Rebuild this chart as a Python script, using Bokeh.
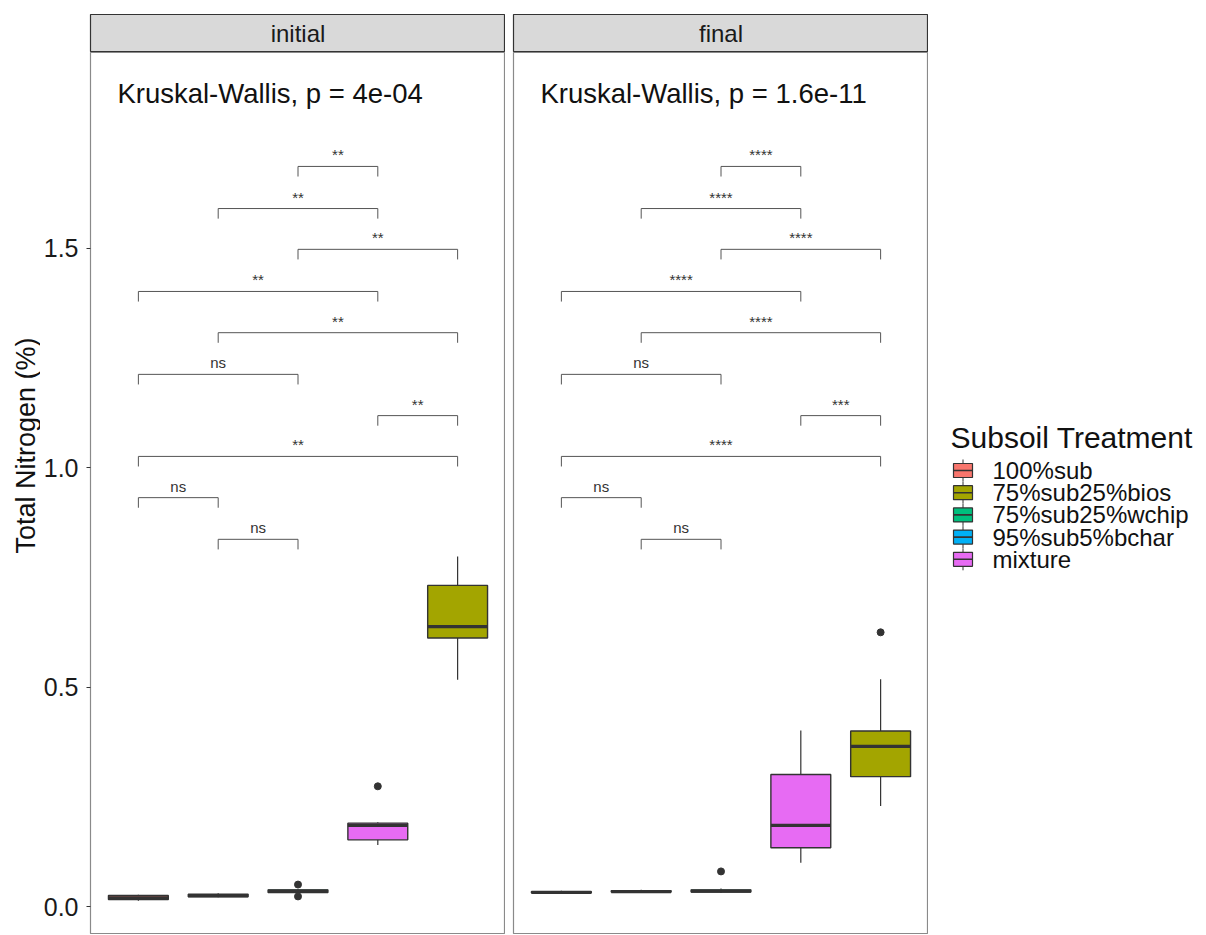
import numpy as np
from bokeh.plotting import figure
from bokeh.layouts import row, column
from bokeh.models import Range1d, FixedTicker, ColumnDataSource, PrintfTickFormatter, Spacer
from bokeh.core.properties import value
from bokeh.embed import file_html
from bokeh.resources import INLINE

# ---------------- data ----------------
legend_groups = ["100%sub", "75%sub25%bios", "75%sub25%wchip", "95%sub5%bchar", "mixture"]
legend_colors = ["#F8766D", "#A3A500", "#00BF7D", "#00B0F6", "#E76BF3"]
x_order = ["100%sub", "95%sub5%bchar", "75%sub25%wchip", "mixture", "75%sub25%bios"]
panel_names = ["initial", "final"]
kw_labels = ["Kruskal-Wallis, p = 4e-04", "Kruskal-Wallis, p = 1.6e-11"]

# box statistics, in x_order
initial_lower = [0.013, 0.021, 0.030, 0.140, 0.517]
initial_q1 = [0.016, 0.022, 0.032, 0.152, 0.612]
initial_median = [0.020, 0.025, 0.035, 0.185, 0.638]
initial_q3 = [0.025, 0.028, 0.038, 0.190, 0.732]
initial_upper = [0.027, 0.030, 0.040, 0.192, 0.798]
initial_out_group = ["75%sub25%wchip", "75%sub25%wchip", "mixture"]
initial_out_value = [0.023, 0.050, 0.274]

final_lower = [0.030, 0.031, 0.031, 0.100, 0.229]
final_q1 = [0.031, 0.033, 0.033, 0.134, 0.296]
final_median = [0.032, 0.034, 0.035, 0.185, 0.365]
final_q3 = [0.034, 0.036, 0.038, 0.301, 0.400]
final_upper = [0.036, 0.038, 0.041, 0.401, 0.518]
final_out_group = ["75%sub25%wchip", "75%sub25%bios"]
final_out_value = [0.080, 0.625]

# pairwise comparison brackets (positions in x_order, 1-based)
bracket_start = [3, 2, 3, 1, 2, 1, 4, 1, 1, 2]
bracket_end = [4, 4, 5, 4, 5, 3, 5, 5, 2, 3]
bracket_y = [1.687, 1.591, 1.498, 1.402, 1.308, 1.213, 1.119, 1.026, 0.932, 0.837]
initial_sig = ["**", "**", "**", "**", "**", "ns", "**", "**", "ns", "ns"]
final_sig = ["****", "****", "****", "****", "****", "ns", "***", "****", "ns", "ns"]

y_ticks = [0.0, 0.5, 1.0, 1.5]
y_title = "Total Nitrogen (%)"
legend_title = "Subsoil Treatment"

# ---------------- style ----------------
FONT = "Liberation Sans"
BOX_W = 0.75
TIP = 0.023
Y0, Y1 = -0.0638, 1.9467
OUTLINE = "#333333"
PANEL_BORDER = "#8a8a8a"
STRIP_H = 52
PANEL_H = 882
TOTAL_H = STRIP_H + PANEL_H
YLAB_W = 40
LEFT_AXIS = 50
P1_W = LEFT_AXIS + 415
P2_W = 8 + 415


def make_strip(name, width, left):
    s = figure(width=width, height=STRIP_H, x_range=Range1d(0, 1), y_range=Range1d(0, 1),
               output_backend="svg", toolbar_location=None, x_axis_location=None,
               y_axis_location=None, min_border=0)
    s.min_border_left = left
    s.min_border_top = 14
    s.grid.visible = False
    s.background_fill_color = "#D9D9D9"
    s.border_fill_color = "white"
    s.outline_line_color = "#333333"
    s.outline_line_width = 1.2
    s.text(x=[0.5], y=[0.5], text=[name], text_align="center", text_baseline="middle",
           text_font=value(FONT), text_font_size="24px", text_color="#1a1a1a")
    return s


def make_panel(width, left, with_axis, lower, q1, med, q3, upper, og, ov, sig, kw):
    p = figure(width=width, height=PANEL_H, x_range=Range1d(0.4, 5.6), y_range=Range1d(Y0, Y1),
               output_backend="svg", toolbar_location=None, x_axis_location=None,
               y_axis_location="left" if with_axis else None, min_border=0)
    p.min_border_left = left
    p.grid.visible = False
    p.outline_line_color = PANEL_BORDER
    p.outline_line_width = 1.2
    if with_axis:
        ax = p.yaxis[0]
        ax.ticker = FixedTicker(ticks=y_ticks)
        ax.formatter = PrintfTickFormatter(format="%.1f")
        ax.axis_line_color = None
        ax.major_tick_out = 4
        ax.major_tick_in = 0
        ax.major_tick_line_color = "#333333"
        ax.minor_tick_line_color = None
        ax.major_label_text_font = FONT
        ax.major_label_text_font_size = "25px"
        ax.major_label_text_color = "#1a1a1a"
        ax.major_label_standoff = 8

    xs = [x_order.index(g) + 1 for g in x_order]
    colors = [legend_colors[legend_groups.index(g)] for g in x_order]
    src = ColumnDataSource(dict(
        x=xs, l=[x - BOX_W / 2 for x in xs], r=[x + BOX_W / 2 for x in xs],
        lower=lower, q1=q1, med=med, q3=q3, upper=upper, color=colors))
    p.segment(x0="x", y0="lower", x1="x", y1="q1", source=src, line_color=OUTLINE, line_width=1.2)
    p.segment(x0="x", y0="q3", x1="x", y1="upper", source=src, line_color=OUTLINE, line_width=1.2)
    p.quad(left="l", right="r", bottom="q1", top="q3", source=src, fill_color="color",
           line_color=OUTLINE, line_width=1.4)
    p.segment(x0="l", y0="med", x1="r", y1="med", source=src, line_color=OUTLINE, line_width=3.2)
    ox = [x_order.index(g) + 1 for g in og]
    p.scatter(x=ox, y=ov, size=7, color=OUTLINE)

    bxs = [[a, a, b, b] for a, b in zip(bracket_start, bracket_end)]
    bys = [[y - TIP, y, y, y - TIP] for y in bracket_y]
    p.multi_line(xs=bxs, ys=bys, line_color="#555555", line_width=1)
    p.text(x=[(a + b) / 2 for a, b in zip(bracket_start, bracket_end)], y=bracket_y, text=sig,
           text_align="center", text_baseline="bottom", y_offset=-3,
           text_font=value(FONT), text_font_size="15px", text_color="#333333")
    p.text(x=[0.737], y=[1.853], text=[kw], text_align="left", text_baseline="alphabetic",
           text_font=value(FONT), text_font_size="27.5px", text_color="#111111")
    return p


# y-axis title: an axis with no ticks whose label is centred where the reference has it
YLAB_H = 890
ylab = figure(width=YLAB_W, height=YLAB_H, x_range=Range1d(0, 1), y_range=Range1d(0, 1),
              output_backend="svg", toolbar_location=None, x_axis_location=None,
              y_axis_location="left", min_border=0)
ylab.min_border_left = YLAB_W - 2
ylab.grid.visible = False
ylab.outline_line_color = None
ya = ylab.yaxis[0]
ya.ticker = FixedTicker(ticks=[])
ya.axis_line_color = None
ya.major_tick_line_color = None
ya.minor_tick_line_color = None
ya.major_label_text_font_size = "0px"
ya.major_tick_out = 0
ya.major_label_standoff = 0
ya.axis_label = y_title
ya.axis_label_text_font = FONT
ya.axis_label_text_font_size = "27px"
ya.axis_label_text_font_style = "normal"
ya.axis_label_text_color = "#111111"
ya.axis_label_standoff = -2
ylab_col = column(ylab, Spacer(width=YLAB_W, height=TOTAL_H - YLAB_H))

strip1 = make_strip(panel_names[0], P1_W, LEFT_AXIS)
panel1 = make_panel(P1_W, LEFT_AXIS, True, initial_lower, initial_q1, initial_median, initial_q3,
                    initial_upper, initial_out_group, initial_out_value, initial_sig, kw_labels[0])
strip2 = make_strip(panel_names[1], P2_W, 8)
panel2 = make_panel(P2_W, 8, False, final_lower, final_q1, final_median, final_q3,
                    final_upper, final_out_group, final_out_value, final_sig, kw_labels[1])

# legend
LEG_W = 272
leg = figure(width=LEG_W, height=TOTAL_H, x_range=Range1d(0, LEG_W), y_range=Range1d(TOTAL_H, 0),
             output_backend="svg", toolbar_location=None, x_axis_location=None,
             y_axis_location=None, min_border=0)
leg.grid.visible = False
leg.outline_line_color = None
leg.text(x=[22], y=[437], text=[legend_title], text_align="left", text_baseline="alphabetic",
         text_font=value(FONT), text_font_size="30px", text_color="#111111")
n = len(legend_groups)
row_y = [470 + 22.2 * i for i in range(n)]
leg.segment(x0=[34.5] * n, y0=[y - 11 for y in row_y], x1=[34.5] * n, y1=[y + 11 for y in row_y],
            line_color=OUTLINE, line_width=1)
leg.quad(left=[25] * n, right=[44] * n, top=[y - 7 for y in row_y], bottom=[y + 7 for y in row_y],
         fill_color=legend_colors, line_color=OUTLINE, line_width=1.2)
leg.segment(x0=[25] * n, y0=row_y, x1=[44] * n, y1=row_y, line_color=OUTLINE, line_width=1.6)
leg.text(x=[64] * n, y=row_y, text=legend_groups, text_align="left", text_baseline="middle",
         text_font=value(FONT), text_font_size="24px", text_color="#111111")

layout = row(ylab_col, column(strip1, panel1), column(strip2, panel2), leg)

open("out.html", "w").write(file_html(layout, INLINE))
